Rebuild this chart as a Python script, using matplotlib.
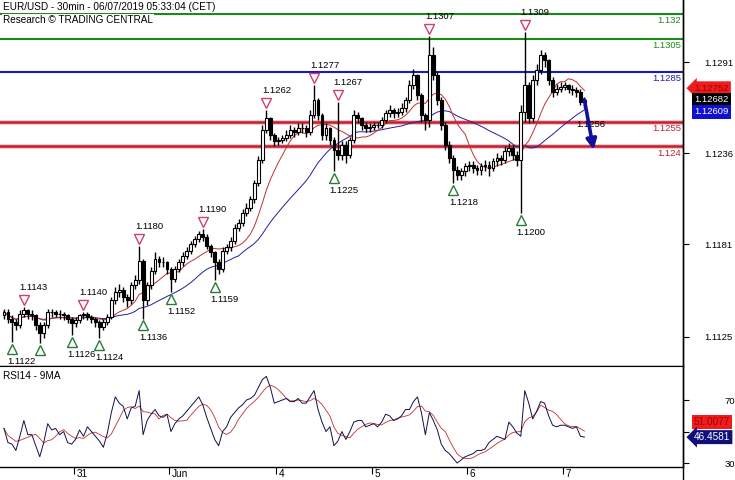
import numpy as np
import pandas as pd
import matplotlib
matplotlib.use("Agg")
import matplotlib.pyplot as plt
from matplotlib.patches import FancyArrowPatch
from matplotlib.lines import Line2D
from matplotlib.transforms import offset_copy, blended_transform_factory

plt.rcParams["font.family"] = ["Liberation Sans", "DejaVu Sans"]
FS = 6.8

# hourly candles, prices in pips (1e-4)
first_open = 11138
close_pips = [
    11140, 11136, 11134, 11132, 11139, 11141, 11139, 11138, 11132, 11127,
    11132, 11140, 11140, 11139, 11139, 11138, 11136, 11133, 11135, 11138,
    11139, 11137, 11136, 11134, 11131, 11134, 11137, 11147, 11152, 11153,
    11149, 11147, 11156, 11159, 11171, 11147, 11156, 11165, 11172, 11170,
    11170, 11166, 11160, 11166, 11170, 11174, 11177, 11181, 11184, 11187,
    11185, 11180, 11176, 11170, 11166, 11177, 11179, 11183, 11191, 11194,
    11200, 11203, 11208, 11218, 11232, 11250, 11257, 11247, 11243, 11244,
    11245, 11247, 11250, 11249, 11251, 11251, 11249, 11259, 11268, 11259,
    11247, 11251, 11244, 11238, 11235, 11241, 11235, 11244, 11259, 11257,
    11253, 11251, 11252, 11253, 11253, 11256, 11260, 11262, 11260, 11261,
    11263, 11268, 11277, 11283, 11271, 11259, 11256, 11295, 11283, 11268,
    11253, 11241, 11233, 11226, 11223, 11225, 11228, 11229, 11227, 11226,
    11228, 11229, 11227, 11231, 11233, 11232, 11237, 11239, 11235, 11232,
    11261, 11277, 11257, 11280, 11286, 11295, 11292, 11280, 11273, 11275,
    11276, 11277, 11275, 11274, 11273, 11267, 11268.2,
]
high_pips = [
    11142, 11142, 11138, 11136, 11141, 11143, 11142, 11141, 11139, 11134,
    11134, 11142, 11142, 11141, 11141, 11140, 11139, 11137, 11137, 11139,
    11140, 11140, 11138, 11137, 11135, 11136, 11139, 11149, 11155, 11157,
    11155, 11151, 11158, 11162, 11180, 11172, 11158, 11167, 11176, 11174,
    11173, 11171, 11167, 11168, 11172, 11176, 11179, 11183, 11186, 11189,
    11190, 11187, 11181, 11177, 11172, 11179, 11181, 11185, 11193, 11196,
    11202, 11206, 11210, 11220, 11234, 11253, 11262, 11258, 11248, 11246,
    11247, 11250, 11253, 11252, 11254, 11254, 11253, 11262, 11277, 11269,
    11260, 11254, 11252, 11246, 11267, 11243, 11243, 11246, 11262, 11261,
    11258, 11255, 11254, 11255, 11255, 11258, 11262, 11265, 11263, 11263,
    11266, 11270, 11280, 11287, 11284, 11272, 11260, 11307, 11300, 11285,
    11270, 11255, 11243, 11235, 11228, 11227, 11230, 11231, 11231, 11229,
    11230, 11232, 11231, 11233, 11236, 11235, 11240, 11242, 11241, 11237,
    11265, 11309, 11279, 11283, 11290, 11298, 11297, 11293, 11282, 11278,
    11279, 11279, 11278, 11277, 11276, 11275, 11270,
]
low_pips = [
    11136, 11133, 11122, 11129, 11130, 11137, 11136, 11135, 11129, 11121,
    11124, 11130, 11137, 11137, 11136, 11135, 11133, 11126, 11131, 11133,
    11136, 11135, 11133, 11131, 11124, 11129, 11132, 11136, 11145, 11149,
    11146, 11143, 11145, 11154, 11157, 11136, 11144, 11154, 11163, 11167,
    11167, 11163, 11152, 11158, 11164, 11168, 11172, 11175, 11179, 11182,
    11183, 11178, 11173, 11159, 11163, 11164, 11175, 11177, 11181, 11189,
    11192, 11198, 11201, 11206, 11216, 11230, 11248, 11244, 11240, 11241,
    11242, 11243, 11245, 11246, 11247, 11248, 11246, 11247, 11257, 11256,
    11244, 11244, 11241, 11225, 11232, 11232, 11230, 11233, 11242, 11254,
    11250, 11249, 11249, 11250, 11251, 11251, 11254, 11258, 11257, 11258,
    11259, 11261, 11266, 11275, 11268, 11255, 11250, 11252, 11280, 11265,
    11250, 11238, 11230, 11218, 11220, 11220, 11222, 11225, 11224, 11223,
    11223, 11225, 11222, 11225, 11228, 11229, 11230, 11234, 11232, 11228,
    11200, 11255, 11254, 11255, 11277, 11284, 11288, 11277, 11270, 11271,
    11273, 11274, 11272, 11271, 11270, 11265, 11263,
]
rsi_values = [
    52, 43, 42, 38, 47, 57, 48, 48, 41, 34,
    43, 55, 51, 52, 48, 50, 43, 42, 45, 51,
    47, 53, 50, 47, 44, 40, 49, 62, 72, 68,
    66, 58, 65, 66, 76, 48, 57, 61, 64, 60,
    59, 61, 50, 55, 58, 60, 63, 66, 69, 72,
    67, 59, 52, 45, 41, 50, 53, 59, 62, 65,
    67, 70, 71, 73, 78, 83, 85, 78, 68, 69,
    70, 71, 69, 69, 71, 68, 68, 72, 76, 64,
    56, 50, 53, 41, 44, 50, 45, 50, 56, 57,
    57, 53, 54, 55, 53, 56, 61, 60, 57, 58,
    60, 64, 64, 69, 72, 62, 48, 62, 57, 51,
    42, 38, 36, 33, 30, 32, 34, 35, 36, 38,
    38, 39, 43, 45, 47, 46, 45, 56, 53, 49,
    47, 76, 68, 58, 63, 69, 68, 60, 54, 53,
    54, 54, 53, 52, 53, 47, 46.46,
]

level_prices = [1.1320, 1.1305, 1.1285, 1.1255, 1.1240]
level_labels = ["1.132", "1.1305", "1.1285", "1.1255", "1.124"]
level_colors = ["#1a8a1a", "#1a8a1a", "#1c1cb4", "#c0202e", "#c0202e"]

peak_bars = [5, 20, 34, 50, 66, 78, 84, 107, 131]
peak_labels = ["1.1143", "1.1140", "1.1180", "1.1190", "1.1262", "1.1277", "1.1267", "1.1307", "1.1309"]
trough_bars = [2, 9, 17, 24, 35, 42, 53, 83, 113, 130]
trough_labels = ["1.1122", "", "1.1126", "1.1124", "1.1136", "1.1152", "1.1159", "1.1225", "1.1218", "1.1200"]

day_ticks = [17.5, 41.5, 68.5, 92.5, 116.5, 140.5]
day_labels = ["31", "Jun", "4", "5", "6", "7"]
price_ticks = [1.1125, 1.1181, 1.1236, 1.1291]

# last values shown in the side boxes
side_boxes = [("1.12752", 1.12752, "#ee1c1c", "#a00000", "larrow"),
              ("1.12682", 1.12682, "black", "white", "square"),
              ("1.12609", 1.12609, "#1010d0", "white", "square")]
rsi_boxes = [("51.0077", 51.0, "#ee1c1c", "#a00000", "square", 6),
             ("46.4581", 46.46, "#10107a", "white", "larrow", 0)]
target_label = "1.1256"
target_price = 1.1238

c = np.array(close_pips) / 1e4
h = np.array(high_pips) / 1e4
l = np.array(low_pips) / 1e4
o = np.r_[first_open / 1e4, c[:-1]]
x = np.arange(len(c))
rsi = np.array(rsi_values, dtype=float)

fig = plt.figure(figsize=(7.35, 4.8), dpi=100)
ax = fig.add_axes([0, 1 - 366 / 480, 683 / 735, 366 / 480])
ax2 = fig.add_axes([0, 1 - 467 / 480, 683 / 735, 101 / 480], sharex=ax)

for a in (ax, ax2):
    for s in ("left", "top"):
        a.spines[s].set_visible(False)
    a.spines["right"].set_linewidth(1.0)
    a.spines["bottom"].set_linewidth(1.0)
ax2.spines["top"].set_visible(True)

ax.set_xlim(-1.0, 170.8)
ax.set_ylim(1.11073, 1.13285)
ax2.set_ylim(27.5, 91.6)

# support / resistance levels
for p, col in zip(level_prices, level_colors):
    if col == "#c0202e":
        ax.axhline(p, color="#e88a96", lw=3.6, alpha=0.5, zorder=1)
        ax.axhline(p, color=col, lw=1.8, zorder=2)
    else:
        ax.axhline(p, color=col, lw=1.5, zorder=2)
lvl_tr = offset_copy(blended_transform_factory(ax.transAxes, ax.transData), fig=fig, y=-1.5, units="points")
for p, lab, col in zip(level_prices, level_labels, level_colors):
    ax.text(0.997, p, lab, color=col, ha="right", va="top", fontsize=FS, transform=lvl_tr)

# moving averages
ax.plot(x, pd.Series(c).rolling(25, min_periods=1).mean(), color="#20209a", lw=0.7, zorder=3)
ax.plot(x, pd.Series(c).rolling(10, min_periods=1).mean(), color="#c03030", lw=0.7, zorder=3)

# candles
up = c >= o
ax.vlines(x, l, h, color="black", lw=1.0, zorder=4)
ax.bar(x[up], (c - o)[up], bottom=o[up], width=0.72, facecolor="white", edgecolor="black", lw=0.8, zorder=5)
ax.bar(x[~up], (o - c)[~up], bottom=c[~up], width=0.72, facecolor="black", edgecolor="black", lw=0.8, zorder=5)

# swing markers
tri_up = offset_copy(ax.transData, fig=fig, y=5, units="points")
lab_up = offset_copy(ax.transData, fig=fig, x=-3, y=14, units="points")
for b, lab in zip(peak_bars, peak_labels):
    ax.plot(b, h[b], marker="v", ms=7, mfc="white", mec="#d0406a", mew=1.0, transform=tri_up, zorder=6)
    ax.text(b, h[b], lab, fontsize=FS, ha="left", va="center", transform=lab_up, zorder=6)
tri_dn = offset_copy(ax.transData, fig=fig, y=-5, units="points")
lab_dn = offset_copy(ax.transData, fig=fig, x=-3, y=-14, units="points")
for b, lab in zip(trough_bars, trough_labels):
    ax.plot(b, l[b], marker="^", ms=7, mfc="white", mec="#2a7a3a", mew=1.0, transform=tri_dn, zorder=6)
    if lab:
        ax.text(b, l[b], lab, fontsize=FS, ha="left", va="center", transform=lab_dn, zorder=6)

# projection arrow
ax.text(x[-1] - 2, 1.1253, target_label, fontsize=FS, ha="left", va="center", zorder=6)
ax.add_patch(FancyArrowPatch((x[-1], c[-1]), (x[-1] + 2.3, target_price), arrowstyle="-|>",
                             mutation_scale=15, lw=2.6, color="#10109a", shrinkA=0, shrinkB=0, zorder=7))

# right axis
ax.yaxis.tick_right()
ax.set_yticks(price_ticks)
ax.set_yticklabels([f"{t:.4f}" for t in price_ticks])
ax.tick_params(axis="y", direction="out", length=4, pad=11, labelsize=FS, width=0.8)
ax.tick_params(axis="x", bottom=False, labelbottom=False)

box_tr = blended_transform_factory(fig.transFigure, ax.transData)
for txt, v, fc, tc, style in side_boxes:
    ax.text(694 / 735, v, txt, color=tc, fontsize=FS, ha="left", va="center", transform=box_tr,
            bbox=dict(boxstyle=f"{style},pad=0.25", fc=fc, ec="none"), zorder=8)

# title
ax.text(3 / 683, 1 - 7 / 366, "EUR/USD - 30min - 06/07/2019 05:33:04 (CET)", fontsize=FS + 0.4,
        ha="left", va="center", transform=ax.transAxes, zorder=9,
        bbox=dict(boxstyle="square,pad=0.1", fc="white", ec="none"))
ax.text(3 / 683, 1 - 20 / 366, "Research \u00a9 TRADING CENTRAL", fontsize=FS + 0.4,
        ha="left", va="center", transform=ax.transAxes, zorder=9,
        bbox=dict(boxstyle="square,pad=0.1", fc="white", ec="none"))

# RSI panel
ax2.plot(x, rsi, color="#10104a", lw=0.7, zorder=3)
ax2.plot(x, pd.Series(rsi).rolling(5, min_periods=1).mean(), color="#c03030", lw=0.6, zorder=2)
ax2.text(3 / 683, 0.9, "RSI14 - 9MA", fontsize=FS + 0.4, ha="left", va="center", transform=ax2.transAxes)
ax2.yaxis.tick_right()
ax2.set_yticks([30, 50, 70])
ax2.set_yticklabels(["30", "", "70"])
ax2.tick_params(axis="y", direction="out", length=4, pad=26, labelsize=FS, width=0.8)
rbox_tr = blended_transform_factory(fig.transFigure, ax2.transData)
for txt, v, fc, tc, style, dy in rsi_boxes:
    tr = offset_copy(rbox_tr, fig=fig, y=dy, units="points")
    ax2.text(694 / 735, v, txt, color=tc, fontsize=FS + 0.4, ha="left", va="center", transform=tr,
             bbox=dict(boxstyle=f"{style},pad=0.2", fc=fc, ec="none"), zorder=8)

ax2.set_xticks(day_ticks)
ax2.set_xticklabels([])
ax2.tick_params(axis="x", direction="out", length=5, width=0.8)
day_tr = offset_copy(ax2.get_xaxis_transform(), fig=fig, x=2, y=-5, units="points")
for t, lab in zip(day_ticks, day_labels):
    ax2.text(t, 0, lab, fontsize=FS + 0.4, ha="left", va="center", transform=day_tr)

fig.add_artist(Line2D([683 / 735, 683 / 735], [0, 1], color="black", lw=1.0, transform=fig.transFigure))

fig.savefig("out.png", dpi=100)
